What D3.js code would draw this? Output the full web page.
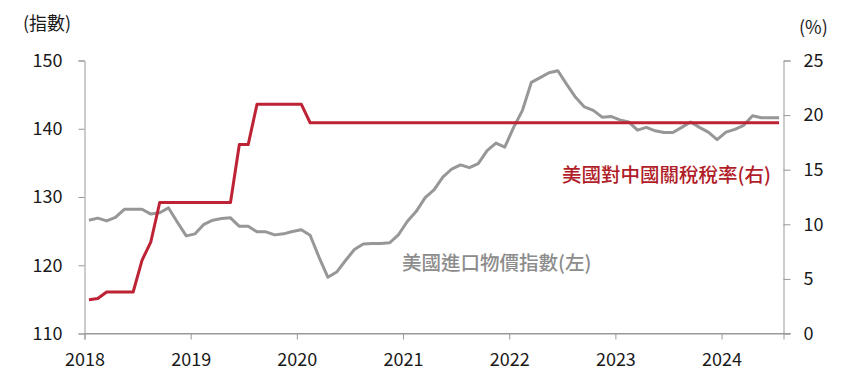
<!DOCTYPE html>
<html><head><meta charset="utf-8">
<script src="https://cdn.jsdelivr.net/npm/d3@7"></script>
<style>
body{margin:0;background:#fff;}
svg{display:block;font-family:"Noto Sans CJK TC","Noto Sans",sans-serif;}
</style></head>
<body>
<svg id="c" width="857" height="381"></svg>
<script>
// Monthly, Jan 2018 - Jul 2024
const years = ["2018","2019","2020","2021","2022","2023","2024"];
const importPrice = [
126.6,126.9,126.5,127.0,128.2,128.2,128.2,127.5,127.7,128.4,126.3,124.3,
124.6,126.0,126.6,126.85,126.95,125.7,125.7,124.9,124.9,124.45,124.6,124.95,
125.2,124.4,121.2,118.25,119.0,120.7,122.3,123.1,123.2,123.2,123.3,124.5,
126.45,127.9,129.9,131.05,132.9,134.1,134.7,134.3,134.9,136.8,137.9,137.3,
140.2,142.7,146.8,147.5,148.2,148.5,146.5,144.6,143.2,142.7,141.7,141.8,
141.3,141.0,139.8,140.2,139.7,139.45,139.45,140.2,141.0,140.2,139.5,138.4,
139.5,139.9,140.5,141.9,141.6,141.6,141.6];
const tariffRate = [
3.1,3.2,3.8,3.8,3.8,3.8,6.7,8.4,12.0,12.0,12.0,12.0,
12.0,12.0,12.0,12.0,12.0,17.3,17.3,21.0,21.0,21.0,21.0,21.0,
21.0,19.3,19.3,19.3,19.3,19.3,19.3,19.3,19.3,19.3,19.3,19.3,
19.3,19.3,19.3,19.3,19.3,19.3,19.3,19.3,19.3,19.3,19.3,19.3,
19.3,19.3,19.3,19.3,19.3,19.3,19.3,19.3,19.3,19.3,19.3,19.3,
19.3,19.3,19.3,19.3,19.3,19.3,19.3,19.3,19.3,19.3,19.3,19.3,
19.3,19.3,19.3,19.3,19.3,19.3,19.3];
const leftTicks = [110,120,130,140,150];
const rightTicks = [0,5,10,15,20,25];

const svg = d3.select("#c");
const L = 84.5, R = 783.5, T = 60.5, B = 333.5;
const n = importPrice.length;
const x = d3.scaleLinear().domain([0, n]).range([L, R]);
const yL = d3.scaleLinear().domain([110,150]).range([B, T]);
const yR = d3.scaleLinear().domain([0,25]).range([B, T]);
const axisColor = "#999";
const textColor = "#1a1a1a";

// left axis
const gl = svg.append("g").attr("transform",`translate(${L},0)`)
  .call(d3.axisLeft(yL).tickValues(leftTicks).tickSize(6).tickPadding(16).tickFormat(d3.format("d")));
// right axis
const gr = svg.append("g").attr("transform",`translate(${R},0)`)
  .call(d3.axisRight(yR).tickValues(rightTicks).tickSize(7).tickPadding(13).tickFormat(d3.format("d")));
// x axis
const gx = svg.append("g").attr("transform",`translate(0,${B})`)
  .call(d3.axisBottom(x).tickValues(years.map((d,i)=>i*12)).tickSize(6).tickPadding(14)
    .tickFormat((d,i)=>years[i]));
[gl,gr,gx].forEach(g=>{
  g.select(".domain").attr("stroke",axisColor).attr("stroke-width",1);
  g.selectAll(".tick line").attr("stroke",axisColor);
  g.selectAll("text").attr("fill",textColor).attr("font-size",18)
    .attr("font-family",'"Noto Sans CJK TC","Noto Sans",sans-serif');
});
// extend baseline to right tick
svg.append("line").attr("x1",L).attr("x2",R+7).attr("y1",B).attr("y2",B).attr("stroke",axisColor);

// lines
const lineL = d3.line().x((d,i)=>x(i+0.5)).y(d=>yL(d));
const lineR = d3.line().x((d,i)=>x(i+0.5)).y(d=>yR(d));
svg.append("path").datum(importPrice).attr("d",lineL).attr("fill","none")
  .attr("stroke","#979797").attr("stroke-width",3).attr("stroke-linejoin","round");
svg.append("path").datum(tariffRate).attr("d",lineR).attr("fill","none")
  .attr("stroke","#be2335").attr("stroke-width",3).attr("stroke-linejoin","round");

// unit labels
svg.append("text").attr("x",23).attr("y",30).text("(指數)").attr("font-size",18).attr("fill",textColor);
svg.append("text").attr("x",799).attr("y",34).text("(%)").attr("font-size",18).attr("fill",textColor);

// series labels
svg.append("text").attr("x",771).attr("y",182).attr("text-anchor","end")
  .text("美國對中國關稅稅率(右)").attr("font-size",19.5).attr("fill","#b01c28").attr("font-weight",500);
svg.append("text").attr("x",402).attr("y",270)
  .text("美國進口物價指數(左)").attr("font-size",19.5).attr("fill","#8c8c8c").attr("font-weight",500);
</script>
</body></html>
